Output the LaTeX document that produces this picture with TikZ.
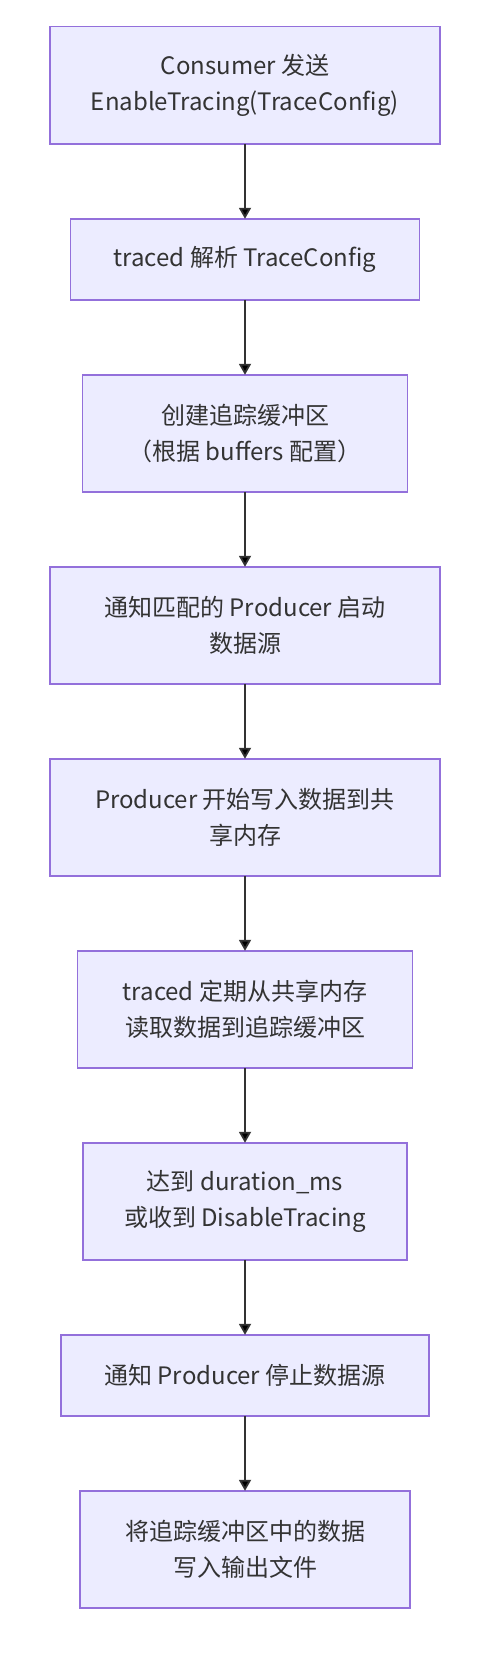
\documentclass[tikz,border=0pt]{standalone}
\usepackage{fontspec}
\setmainfont{Noto Sans CJK SC}
\usetikzlibrary{positioning,arrows.meta}
\definecolor{boxfill}{HTML}{ECECFF}
\definecolor{boxline}{HTML}{9370DB}
\definecolor{inkline}{HTML}{333333}
\tikzstyle{every node}+=[font=\fontsize{24pt}{36pt}\selectfont,text=inkline,align=center,node distance=75pt]
\tikzstyle{stepbox}=[rectangle,draw=boxline,fill=boxfill,line width=1.4pt,minimum height=117pt,inner sep=0pt,outer sep=0pt]
\tikzstyle{onerow}=[minimum height=81pt]
\tikzstyle{flow}=[draw=inkline,line width=1.8pt,-{Triangle[length=11pt,width=12pt]}]
\newcommand{\drawsteps}[2][\empty]{
	\foreach \a/\b in {#2}{
		\draw[#1] (\a) edge (\b);
	}
}

\begin{document}
\begin{tikzpicture}[x=1pt,y=1pt]

\useasboundingbox (0, 0) rectangle (496, -1659);

\node[stepbox,minimum width=390pt] (consumer) at (245, -85.3) {Consumer 发送\\EnableTracing(TraceConfig)};
\node[stepbox,onerow,minimum width=349pt,below=of consumer] (parse) {traced 解析 TraceConfig};
\node[stepbox,minimum width=325pt,below=of parse] (buffers) {创建追踪缓冲区\\（根据 buffers 配置）};
\node[stepbox,minimum width=390pt,below=of buffers] (start) {通知匹配的 Producer 启动\\数据源};
\node[stepbox,minimum width=390pt,below=of start] (write) {Producer 开始写入数据到共\\享内存};
\node[stepbox,minimum width=335pt,below=of write] (read) {traced 定期从共享内存\\读取数据到追踪缓冲区};
\node[stepbox,minimum width=324pt,below=of read] (stop) {达到 duration\_ms\\或收到 DisableTracing};
\node[stepbox,onerow,minimum width=368pt,below=of stop] (notify) {通知 Producer 停止数据源};
\node[stepbox,minimum width=330pt,below=of notify] (output) {将追踪缓冲区中的数据\\写入输出文件};

\drawsteps[flow]{consumer/parse,parse/buffers,buffers/start,start/write,write/read,read/stop,stop/notify,notify/output}

\end{tikzpicture}
\end{document}
